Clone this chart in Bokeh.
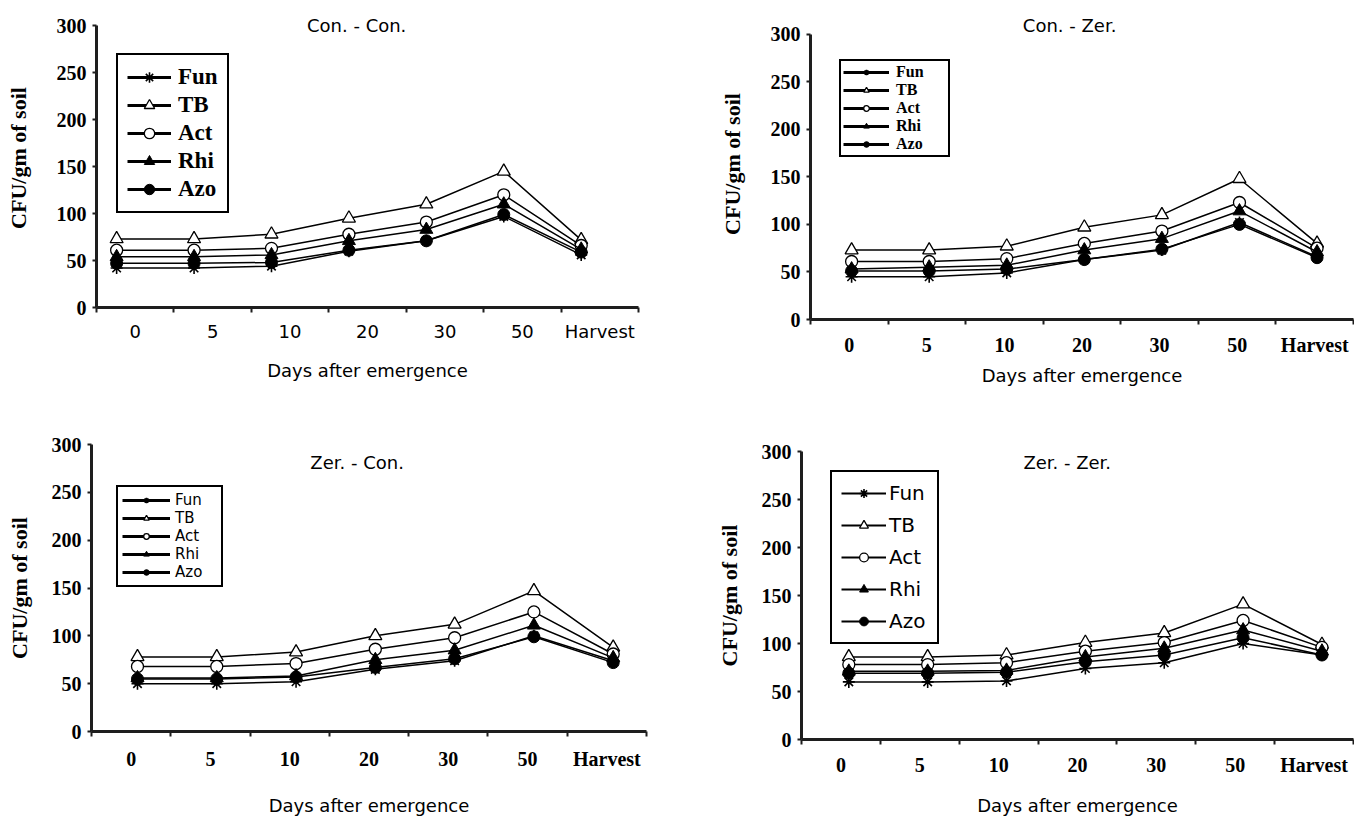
from bokeh.plotting import figure
from bokeh.models import Range1d, FixedTicker, Legend, LegendItem, Label
from bokeh.layouts import column, row
from bokeh.embed import file_html
from bokeh.resources import INLINE

categories = ["0", "5", "10", "20", "30", "50", "Harvest"]
series_names = ["Fun", "TB", "Act", "Rhi", "Azo"]
y_ticks = [0, 50, 100, 150, 200, 250, 300]

# Con. - Con.
cc_fun = [42, 42, 44, 60, 71, 97, 56]
cc_tb = [73, 73, 78, 95, 110, 145, 72]
cc_act = [61, 61, 63, 78, 91, 120, 66]
cc_rhi = [54, 54, 56, 71, 83, 110, 62]
cc_azo = [47, 47, 48, 61, 71, 99, 59]

# Con. - Zer.
cz_fun = [45, 45, 49, 63, 73, 102, 66]
cz_tb = [73, 73, 77, 97, 110, 148, 80]
cz_act = [61, 61, 64, 80, 93, 123, 75]
cz_rhi = [53, 55, 57, 73, 85, 114, 71]
cz_azo = [51, 51, 53, 63, 74, 100, 65]

# Zer. - Con.
zc_fun = [50, 50, 52, 65, 74, 100, 74]
zc_tb = [78, 78, 83, 100, 112, 147, 88]
zc_act = [68, 68, 71, 86, 98, 125, 81]
zc_rhi = [56, 56, 58, 75, 85, 111, 77]
zc_azo = [55, 55, 57, 67, 76, 99, 72]

# Zer. - Zer.
zz_fun = [60, 60, 61, 74, 80, 100, 88]
zz_tb = [86, 86, 88, 101, 111, 141, 99]
zz_act = [78, 78, 80, 92, 101, 124, 96]
zz_rhi = [71, 71, 72, 86, 95, 114, 92]
zz_azo = [69, 69, 70, 81, 88, 106, 88]

SERIF = "Liberation Serif"
SANS = "DejaVu Sans"
AX = "#1e1e1e"
NAN = float("nan")

marker_styles = {
    "Fun": dict(marker="asterisk", fill_color="black", size=12, line_width=1.6),
    "TB": dict(marker="triangle", fill_color="white", size=13, line_width=1.3),
    "Act": dict(marker="circle", fill_color="white", size=12, line_width=1.3),
    "Rhi": dict(marker="triangle", fill_color="black", size=13, line_width=1.0),
    "Azo": dict(marker="circle", fill_color="black", size=12, line_width=1.0),
}

panels = [
    dict(title="Con. - Con.", data=[cc_fun, cc_tb, cc_act, cc_rhi, cc_azo],
         w=698, h=418, borders=(96, 60, 8, 111), ymax=318.4, offset=-0.24,
         xfont=SANS, xstyle="normal", xsize="18px", xstand=8, xlab_stand=15,
         ylab_stand=23, title_xy=(3.36, 300),
         leg=dict(loc=(20, 94), font=SERIF, style="bold", size="23px", gw=44, pad=9,
                  stand=7, spacing=2, lh=26, lw_line=3, label_width=40)),
    dict(title="Con. - Zer.", data=[cz_fun, cz_tb, cz_act, cz_rhi, cz_azo],
         w=656, h=418, borders=(112, 1, 8, 99), ymax=327.0, offset=0.03,
         xfont=SERIF, xstyle="bold", xsize="20px", xstand=9, xlab_stand=6,
         ylab_stand=23, title_xy=(3.34, 309.5),
         leg=dict(loc=(29, 162), font=SERIF, style="bold", size="16px", gw=46, pad=2,
                  stand=7, spacing=0, lh=14, lw_line=3, label_width=50)),
    dict(title="Zer. - Con.", data=[zc_fun, zc_tb, zc_act, zc_rhi, zc_azo],
         w=698, h=402, borders=(91, 52, 26, 89), ymax=300, offset=0.08,
         xfont=SERIF, xstyle="bold", xsize="20px", xstand=11, xlab_stand=22,
         ylab_stand=17, title_xy=(3.35, 281.5),
         leg=dict(loc=(25, 144), font=SANS, style="normal", size="15px", gw=48, pad=4,
                  stand=5, spacing=0, lh=14, lw_line=3, label_width=42)),
    dict(title="Zer. - Zer.", data=[zz_fun, zz_tb, zz_act, zz_rhi, zz_azo],
         w=656, h=402, borders=(103, 1, 33, 81), ymax=300, offset=0.1,
         xfont=SERIF, xstyle="bold", xsize="20px", xstand=9, xlab_stand=16,
         ylab_stand=17, title_xy=(3.37, 288.5),
         leg=dict(loc=(29, 95), font=SANS, style="normal", size="20px", gw=45, pad=9,
                  stand=3, spacing=8, lh=22, lw_line=2, label_width=39)),
]


def make_panel(cfg):
    bl, br, bt, bb = cfg["borders"]
    n = len(categories)
    p = figure(width=cfg["w"], height=cfg["h"], output_backend="svg", toolbar_location=None,
               x_range=Range1d(0, n), y_range=Range1d(0, cfg["ymax"]),
               min_border_left=bl, min_border_right=br, min_border_top=bt, min_border_bottom=bb)
    p.xgrid.visible = False
    p.ygrid.visible = False
    p.outline_line_color = None
    p.background_fill_color = "white"
    p.border_fill_color = "white"

    xs = [i + 0.5 + cfg["offset"] for i in range(n)]
    for name, ys in zip(series_names, cfg["data"]):
        st = marker_styles[name]
        p.line(xs, ys, line_color="black", line_width=1.5)
        p.scatter(xs, ys, marker=st["marker"], size=st["size"], fill_color=st["fill_color"],
                  line_color="black", line_width=st["line_width"])

    lg = cfg["leg"]
    items = []
    for name in series_names:
        st = marker_styles[name]
        lr = p.line(x=[NAN], y=[NAN], line_color="black", line_width=lg["lw_line"])
        sr = p.scatter(x=[NAN], y=[NAN], marker=st["marker"], fill_color=st["fill_color"],
                       line_color="black", line_width=st["line_width"])
        items.append(LegendItem(label=name, renderers=[lr, sr]))
    legend = Legend(items=items, location=lg["loc"], orientation="vertical",
                    border_line_color="black", border_line_width=2, border_line_alpha=1.0,
                    background_fill_color="white", background_fill_alpha=1.0,
                    padding=lg["pad"], spacing=lg["spacing"], margin=0,
                    glyph_width=lg["gw"], glyph_height=lg["lh"], label_height=lg["lh"],
                    label_width=lg["label_width"], label_standoff=lg["stand"],
                    label_text_font=lg["font"], label_text_font_style=lg["style"],
                    label_text_font_size=lg["size"], label_text_color="black")
    p.add_layout(legend)

    xa = p.xaxis[0]
    xa.ticker = FixedTicker(ticks=[i + 0.5 for i in range(n)], minor_ticks=list(range(n + 1)))
    xa.major_label_overrides = {i + 0.5: c for i, c in enumerate(categories)}
    xa.major_tick_line_color = None
    xa.major_tick_out = 0
    xa.major_tick_in = 0
    xa.minor_tick_out = 5
    xa.minor_tick_in = 0
    xa.minor_tick_line_color = AX
    xa.minor_tick_line_width = 2
    xa.axis_line_color = AX
    xa.axis_line_width = 3
    xa.major_label_text_font = cfg["xfont"]
    xa.major_label_text_font_style = cfg["xstyle"]
    xa.major_label_text_font_size = cfg["xsize"]
    xa.major_label_text_color = "black"
    xa.major_label_standoff = cfg["xstand"]
    xa.axis_label = "Days after emergence"
    xa.axis_label_text_font = SANS
    xa.axis_label_text_font_style = "normal"
    xa.axis_label_text_font_size = "18px"
    xa.axis_label_text_color = "black"
    xa.axis_label_standoff = cfg["xlab_stand"]

    ya = p.yaxis[0]
    ya.ticker = FixedTicker(ticks=y_ticks)
    ya.bounds = (0, 300)
    ya.major_tick_out = 4
    ya.major_tick_in = 0
    ya.major_tick_line_width = 2
    ya.major_tick_line_color = AX
    ya.minor_tick_line_color = None
    ya.axis_line_color = AX
    ya.axis_line_width = 3
    ya.major_label_text_font = SERIF
    ya.major_label_text_font_style = "bold"
    ya.major_label_text_font_size = "20px"
    ya.major_label_text_color = "black"
    ya.major_label_standoff = 6
    ya.axis_label = "CFU/gm of soil"
    ya.axis_label_text_font = SERIF
    ya.axis_label_text_font_style = "bold"
    ya.axis_label_text_font_size = "22px"
    ya.axis_label_text_color = "black"
    ya.axis_label_standoff = cfg["ylab_stand"]

    tx, ty = cfg["title_xy"]
    p.add_layout(Label(x=tx, y=ty, text=cfg["title"], text_align="center", text_baseline="middle",
                       text_font=SANS, text_font_size="18px", text_color="black"))
    return p


figs = [make_panel(c) for c in panels]
layout = row(column(row(figs[0]), row(figs[2])), column(row(figs[1]), row(figs[3])))
open("out.html", "w").write(file_html(layout, INLINE))
